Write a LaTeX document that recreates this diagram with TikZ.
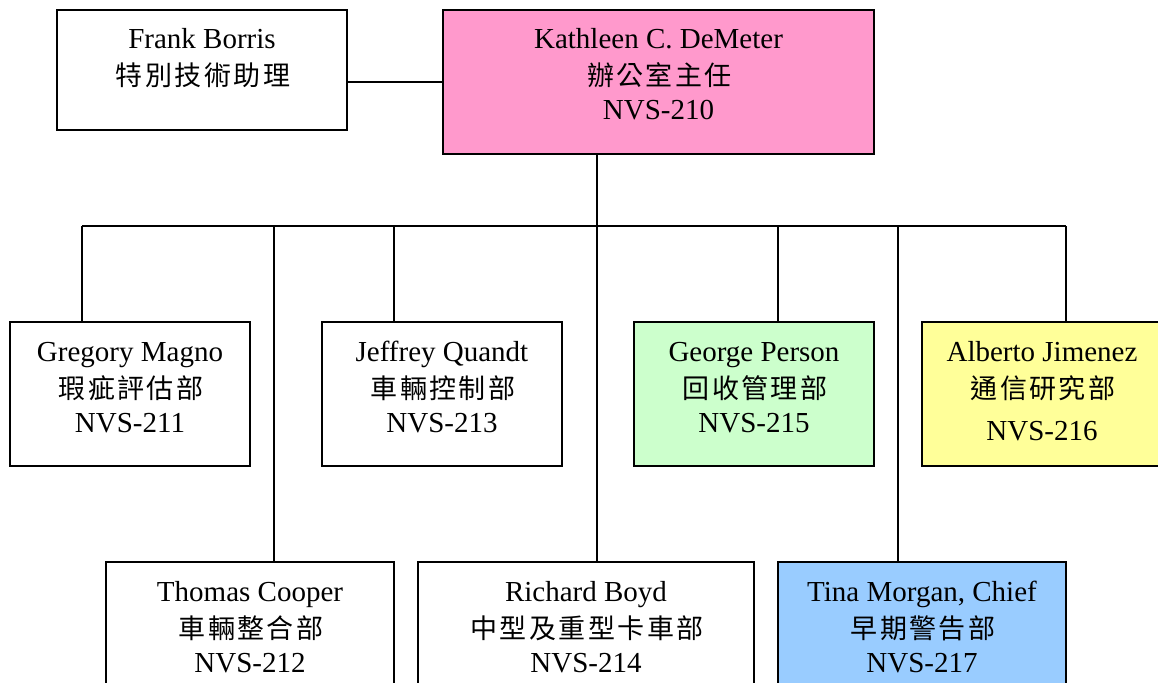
\documentclass[tikz,border=0pt]{standalone}
\usepackage{fontspec}
\setmainfont{Liberation Serif}
\newfontfamily\cjk{Noto Sans CJK TC}[LetterSpace=9]
\usetikzlibrary{calc}
\definecolor{pinkbox}{HTML}{FF99CC}
\definecolor{greenbox}{HTML}{CCFFCC}
\definecolor{yellowbox}{HTML}{FFFF99}
\definecolor{bluebox}{HTML}{99CCFF}
\tikzset{
  unitbox/.style={draw=black, line width=1.6pt, anchor=north west, inner sep=0pt, outer sep=0pt},
  nmtext/.style={font=\fontsize{29}{35}\selectfont, anchor=base, inner sep=0pt},
  cjtext/.style={font=\cjk\fontsize{27}{32}\selectfont, anchor=base, inner sep=0pt},
  link/.style={draw=black, line width=1.6pt}
}
\newcommand\orgunit[9]{%
  \node[unitbox, fill=#6, minimum width={(#4-#2)*1pt}, minimum height={(#5-#3)*1pt}] (#1) at (#2,#3) {};
  \node[nmtext] (#1-a) at ($(#1.north)+(0,39)$) {#7};
  \node[cjtext] (#1-b) at ($(#1.north)+(1,76)$) {#8};
  \node[nmtext] (#1-c) at ($(#1.north)+(0,110)$) {#9};
}
\begin{document}
\begin{tikzpicture}[x=1pt,y=-1pt]
\useasboundingbox (0,0) rectangle (1158,682);
\clip (0,0) rectangle (1158,682);
\fill[white] (0,0) rectangle (1158,682);
\coordinate (fk) at (347,82);
\coordinate (bL) at (82,226);
\coordinate (bT) at (274,226);
\coordinate (bJ) at (394,226);
\coordinate (bM) at (597,226);
\coordinate (bG) at (778,226);
\coordinate (bTi) at (898,226);
\coordinate (bR) at (1066,226);
% boxes
\orgunit{frank}{57}{10}{347}{130}{white}{Frank Borris}{特別技術助理}{}
\orgunit{kath}{443}{10}{874}{154}{pinkbox}{Kathleen C. DeMeter}{辦公室主任}{NVS-210}
\orgunit{greg}{10}{322}{250}{466}{white}{Gregory Magno}{瑕疵評估部}{NVS-211}
\orgunit{jeff}{322}{322}{562}{466}{white}{Jeffrey Quandt}{車輛控制部}{NVS-213}
\orgunit{geo}{634}{322}{874}{466}{greenbox}{George Person}{回收管理部}{NVS-215}
\orgunit{alb}{922}{322}{1162}{466}{yellowbox}{Alberto Jimenez}{通信研究部}{\raisebox{-8pt}{NVS-216}}
\orgunit{tom}{106}{562}{394}{700}{white}{Thomas Cooper}{車輛整合部}{NVS-212}
\orgunit{rich}{418}{562}{754}{700}{white}{Richard Boyd}{中型及重型卡車部}{NVS-214}
\orgunit{tina}{778}{562}{1066}{700}{bluebox}{Tina Morgan, Chief}{早期警告部}{NVS-217}
% lines
\draw[link] (frank.east |- fk) -- (kath.west |- fk);
\draw[link] (kath.south -| bM) -- (bM);
\draw[link] (bL) -- (bR);
\draw[link] (bL) -- (greg.north -| bL);
\draw[link] (bT) -- (tom.north -| bT);
\draw[link] (bJ) -- (jeff.north -| bJ);
\draw[link] (bM) -- (rich.north -| bM);
\draw[link] (bG) -- (geo.north -| bG);
\draw[link] (bTi) -- (tina.north -| bTi);
\draw[link] (bR) -- (alb.north -| bR);
\end{tikzpicture}
\end{document}
